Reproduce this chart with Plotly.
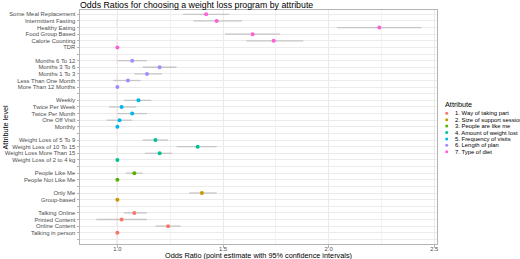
import plotly.graph_objects as go

# ---------------- data (display order, top to bottom) ----------------
attributes = ["1. Way of taking part", "2. Size of support session", "3. People are like me",
              "4. Amount of weight lost", "5. Frequency of visits", "6. Length of plan",
              "7. Type of diet"]
attr_colors = ["#F8766D", "#C49A00", "#53B400", "#00C094", "#00B6EB", "#A58AFF", "#FB61D7"]

levels = ["Some Meal Replacement", "Intermittent Fasting", "Healthy Eating", "Food Group Based",
          "Calorie Counting", "TDR",
          "Months 6 To 12", "Months 3 To 6", "Months 1 To 3", "Less Than One Month",
          "More Than 12 Months",
          "Weekly", "Twice Per Week", "Twice Per Month", "One Off Visit", "Monthly",
          "Weight Loss of 5 To 9", "Weight Loss of 10 To 15", "Weight Loss More Than 15",
          "Weight Loss of 2 to 4 kg",
          "People Like Me", "People Not Like Me",
          "Only Me", "Group-based",
          "Talking Online", "Printed Content", "Online Content", "Talking in person"]
level_attr = [7, 7, 7, 7, 7, 7,
              6, 6, 6, 6, 6,
              5, 5, 5, 5, 5,
              4, 4, 4, 4,
              3, 3,
              2, 2,
              1, 1, 1, 1]
odds_ratio = [1.42, 1.47, 2.24, 1.64, 1.74, 1.00,
              1.07, 1.20, 1.14, 1.05, 1.00,
              1.10, 1.02, 1.07, 1.01, 1.00,
              1.18, 1.38, 1.20, 1.00,
              1.08, 1.00,
              1.40, 1.00,
              1.08, 1.02, 1.24, 1.00]
ci_low = [1.31, 1.36, 2.04, 1.51, 1.61, 1.00,
          1.00, 1.12, 1.08, 0.98, 1.00,
          1.03, 0.96, 1.00, 0.95, 1.00,
          1.12, 1.28, 1.13, 1.00,
          1.04, 1.00,
          1.34, 1.00,
          1.03, 0.90, 1.18, 1.00]
ci_high = [1.53, 1.59, 2.44, 1.77, 1.88, 1.00,
           1.14, 1.28, 1.21, 1.11, 1.00,
           1.16, 1.09, 1.14, 1.07, 1.00,
           1.24, 1.47, 1.26, 1.00,
           1.12, 1.00,
           1.47, 1.00,
           1.14, 1.14, 1.30, 1.00]

x_ticks = [1.0, 1.5, 2.0, 2.5]
x_tick_labels = ["1.0", "1.5", "2.0", "2.5"]
x_minor = [1.25, 1.75, 2.25]
reference_or = 1.0

# ---------------- row positions (blank row after each attribute) ----------------
row_pos = []
tick_text = []
row = 0
prev = None
for lv, a in zip(levels, level_attr):
    if prev is not None and a != prev:
        tick_text.append("")
        row += 1
    row_pos.append(row)
    tick_text.append(lv)
    row += 1
    prev = a
tick_text.append("")
n_rows = len(tick_text)

# ---------------- figure ----------------
W, H = 520, 259
L, R, T, B = 80, 83, 10, 15
pw, ph = W - L - R, H - T - B

def px_x(p):
    return (p - L) / pw

def px_y(p):
    return (H - B - p) / ph

FONT = "Liberation Sans, Arial, sans-serif"
fig = go.Figure()
for ai, aname in enumerate(attributes, start=1):
    idx = [i for i, a in enumerate(level_attr) if a == ai]
    fig.add_trace(go.Scatter(
        x=[odds_ratio[i] for i in idx],
        y=[row_pos[i] for i in idx],
        mode="markers",
        name=aname,
        marker=dict(color=attr_colors[ai - 1], size=4, line=dict(width=0)),
        error_x=dict(type="data", symmetric=False,
                     array=[ci_high[i] - odds_ratio[i] for i in idx],
                     arrayminus=[odds_ratio[i] - ci_low[i] for i in idx],
                     color="#C6C6C6", thickness=1.3, width=0),
        showlegend=False,
    ))

fig.add_shape(type="line", xref="x", yref="paper", x0=reference_or, x1=reference_or,
              y0=0, y1=1, line=dict(color="#FF3B3B", width=0.8, dash="dash"), layer="between")

axis_common = dict(showline=True, mirror=True, linecolor="#B3B3B3", linewidth=1,
                   ticks="outside", ticklen=2.5, tickwidth=0.6, tickcolor="#B3B3B3",
                   tickfont=dict(size=5.9, color="#4D4D4D", family=FONT),
                   gridcolor="#EBEBEB", gridwidth=0.6, zeroline=False)

fig.update_layout(
    width=W, height=H,
    margin=dict(l=L, r=R, t=T, b=B, autoexpand=False),
    paper_bgcolor="white", plot_bgcolor="white",
    font=dict(family=FONT, color="black"),
    xaxis=dict(range=[0.823, 2.513], tickvals=x_ticks, ticktext=x_tick_labels,
               minor=dict(tickvals=x_minor, showgrid=True, gridcolor="#F3F3F3",
                          gridwidth=0.4, ticks=""),
               ticklabelstandoff=-4,
               **axis_common),
    yaxis=dict(range=[n_rows - 0.3, -0.65], tickvals=list(range(n_rows)),
               ticktext=tick_text, **axis_common),
    title=dict(text="Odds Ratios for choosing a weight loss program by attribute",
               x=L / W, xanchor="left", xref="container",
               y=1 - 4.5 / H, yanchor="middle", yref="container",
               font=dict(size=8.8, color="black", family=FONT)),
    showlegend=False,
)

# axis titles
fig.add_annotation(text="Odds Ratio (point estimate with 95% confidence intervals)",
                   xref="paper", yref="paper", x=0.5, y=px_y(255), xanchor="center",
                   yanchor="middle", showarrow=False,
                   font=dict(size=7.3, color="black", family=FONT))
fig.add_annotation(text="Attribute level", xref="paper", yref="paper",
                   x=px_x(4.5), y=px_y(127), textangle=-90, xanchor="center",
                   yanchor="middle", showarrow=False,
                   font=dict(size=7.3, color="black", family=FONT))

# legend (drawn manually for compact ggplot-like spacing)
fig.add_annotation(text="Attribute", xref="paper", yref="paper", x=px_x(443), y=px_y(104),
                   xanchor="left", yanchor="middle", showarrow=False,
                   font=dict(size=7.3, color="black", family=FONT))
for i, aname in enumerate(attributes):
    yc = 113.3 + 6.4 * i
    fig.add_shape(type="circle", xref="paper", yref="paper",
                  x0=px_x(445.2), x1=px_x(448.2), y0=px_y(yc + 1.5), y1=px_y(yc - 1.5),
                  fillcolor=attr_colors[i], line=dict(width=0))
    fig.add_annotation(text=aname, xref="paper", yref="paper", x=px_x(452.5), y=px_y(yc),
                       xanchor="left", yanchor="middle", showarrow=False,
                       font=dict(size=5.9, color="black", family=FONT))

fig.write_html("out.html", config={"displayModeBar": False},
               post_script="document.body.style.margin='0';document.body.style.overflow='hidden';")
